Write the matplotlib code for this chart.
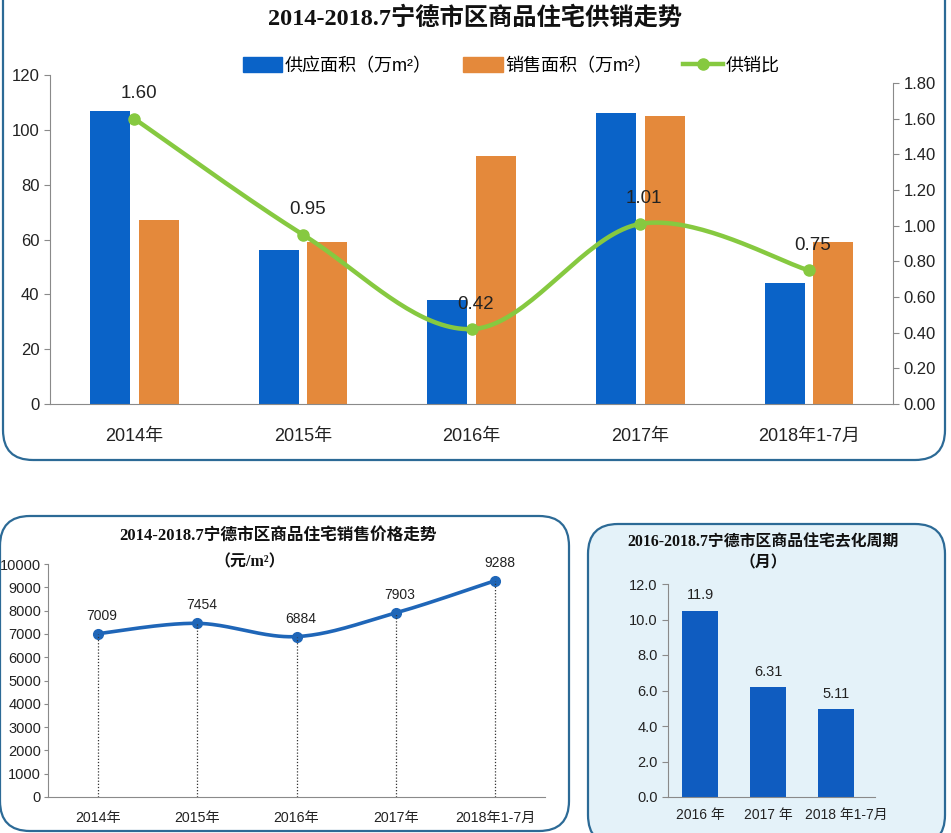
import numpy as np
import matplotlib
matplotlib.use('Agg')
import matplotlib.pyplot as plt
import matplotlib.transforms as mtransforms
from matplotlib.patches import FancyBboxPatch, Patch
from matplotlib.lines import Line2D

plt.rcParams['font.family'] = ['Liberation Sans', 'Noto Sans CJK SC']
TITLE_FONT = ['Liberation Serif', 'Noto Sans CJK SC']

# ---- data ----
years = ['2014年', '2015年', '2016年', '2017年', '2018年1-7月']
supply = [107, 56, 38, 106, 44]          # 供应面积 (万m²)
sales = [67, 59, 90.5, 105, 59]          # 销售面积 (万m²)
ratio = [1.60, 0.95, 0.42, 1.01, 0.75]   # 供销比

price = [7009, 7454, 6884, 7903, 9288]   # 元/m²

cycle_years = ['2016 年', '2017 年', '2018 年1-7月']
cycle_bars = [10.5, 6.2, 4.95]           # bar heights as drawn
cycle_labels = ['11.9', '6.31', '5.11']  # printed data labels

BLUE = '#0a63c8'
ORANGE = '#e4893b'
GREEN = '#86c940'
LINE_BLUE = '#1f66b8'
BAR_BLUE = '#0f5cc0'
BOX_EDGE = '#2c6a96'
AXIS_GREY = '#8a8a8a'
W, H = 951, 833


def smooth(x, y, n=40):
    """Catmull-Rom curve through the points, like Excel's smoothed line."""
    pts = np.column_stack([x, y]).astype(float)
    pad = np.vstack([pts[0], pts, pts[-1]])
    t = np.linspace(0, 1, n)[:, None]
    segs = []
    for i in range(len(pts) - 1):
        p0, p1, p2, p3 = pad[i], pad[i + 1], pad[i + 2], pad[i + 3]
        segs.append(0.5 * (2 * p1 + (-p0 + p2) * t
                           + (2 * p0 - 5 * p1 + 4 * p2 - p3) * t ** 2
                           + (-p0 + 3 * p1 - 3 * p2 + p3) * t ** 3))
    out = np.vstack(segs)
    return out[:, 0], out[:, 1]


def px_axes(x0, y0, x1, y1):
    """axes rect from pixel box (top-left origin)"""
    return fig.add_axes([x0 / W, 1 - y1 / H, (x1 - x0) / W, (y1 - y0) / H])


def box(x0, y0, x1, y1, fc='none'):
    p = FancyBboxPatch((x0 / 100, (H - y1) / 100), (x1 - x0) / 100, (y1 - y0) / 100,
                       boxstyle='round,pad=0,rounding_size=0.3',
                       transform=fig.dpi_scale_trans, fc=fc, ec=BOX_EDGE,
                       lw=1.6, zorder=-5)
    fig.patches.append(p)


def style_left(ax, size, tick_len=4, pad=3.5):
    for s in ['top', 'right']:
        ax.spines[s].set_visible(False)
    ax.spines['left'].set_color(AXIS_GREY)
    ax.spines['bottom'].set_color(AXIS_GREY)
    ax.tick_params(axis='y', colors=AXIS_GREY, labelcolor='#222222',
                   labelsize=size, length=tick_len, width=0.8, pad=pad)
    ax.tick_params(axis='x', length=0, labelcolor='#222222')


fig = plt.figure(figsize=(W / 100, H / 100), dpi=100)

# ---- boxes ----
box(3, -40, 945, 460)
box(0, 516, 569, 831)
box(588, 524, 945, 845, fc='#e4f2f9')

# ---- top chart: supply / sales ----
ax = px_axes(50, 75, 893, 404)
ax.set_facecolor('none')
x = np.arange(len(years))
ax.bar(x - 0.143, supply, width=0.237, color=BLUE)
ax.bar(x + 0.145, sales, width=0.237, color=ORANGE)
ax.set_xlim(-0.5, len(years) - 0.5)
ax.set_ylim(0, 120)
ax.set_yticks(np.arange(0, 121, 20))
style_left(ax, 12)
ax.set_xticks(x)
ax.set_xticklabels(years, fontsize=13)
ax.tick_params(axis='x', pad=17)

ax2 = ax.twinx()
sx, sy = smooth(x, ratio)
ax2.plot(sx, sy, color=GREEN, lw=3.2, solid_capstyle='round')
ax2.plot(x, ratio, 'o', color=GREEN, ms=8)
ax2.set_ylim(0, 1.845)
ax2.set_yticks(np.arange(0, 1.81, 0.2))
ax2.set_yticklabels(['%.2f' % v for v in np.arange(0, 1.81, 0.2)])
for s in ['top', 'left', 'bottom']:
    ax2.spines[s].set_visible(False)
ax2.spines['right'].set_color(AXIS_GREY)
ax2.spines['right'].set_bounds(0, 1.8)
ax2.tick_params(axis='y', colors=AXIS_GREY, labelcolor='#222222',
                labelsize=12, length=4, width=0.8)
for xi, r in zip(x, ratio):
    ax2.annotate('%.2f' % r, (xi, r), xytext=(3, 18), textcoords='offset points',
                 ha='center', va='center', fontsize=13.5, color='#222222')

fig.text(475 / W, 1 - 18 / H, '2014-2018.7宁德市区商品住宅供销走势',
         family=TITLE_FONT, weight='bold', fontsize=17.5,
         ha='center', va='center', color='#111111')

handles = [Patch(color=BLUE), Patch(color=ORANGE),
           Line2D([], [], color=GREEN, lw=3.2, marker='o', ms=8)]
fig.legend(handles, ['供应面积（万m²）', '销售面积（万m²）', '供销比'],
           loc='center', bbox_to_anchor=(511 / W, 1 - 66 / H), ncol=3,
           frameon=False, fontsize=13, handlelength=2.2, handleheight=0.9,
           handletextpad=0.15, columnspacing=1.7)

# ---- bottom left: price ----
axp = px_axes(48, 564, 545, 797)
axp.set_facecolor('none')
xp = np.arange(len(years))
px_, py_ = smooth(xp, price)
axp.plot(px_, py_, color=LINE_BLUE, lw=2.6)
axp.plot(xp, price, 'o', color=LINE_BLUE, ms=7)
axp.vlines(xp, 0, price, colors='#333333', linestyles=(0, (1, 1.5)), lw=0.9)
axp.set_xlim(-0.5, len(years) - 0.5)
axp.set_ylim(0, 10000)
axp.set_yticks(np.arange(0, 10001, 1000))
style_left(axp, 10.5, tick_len=3, pad=2)
axp.set_xticks(xp)
axp.set_xticklabels(years, fontsize=10.2)
axp.tick_params(axis='x', pad=10)
for xi, v in zip(xp, price):
    axp.annotate(str(v), (xi, v), xytext=(3, 13), textcoords='offset points',
                 ha='center', va='center', fontsize=10, color='#222222')

fig.text(278 / W, 1 - 536 / H, '2014-2018.7宁德市区商品住宅销售价格走势',
         family=TITLE_FONT, weight='bold', fontsize=12,
         ha='center', va='center', color='#111111')
fig.text(250 / W, 1 - 562 / H, '（元/m²）',
         family=TITLE_FONT, weight='bold', fontsize=11.5,
         ha='center', va='center', color='#111111')

# ---- bottom right: de-stocking cycle ----
axc = px_axes(668, 584, 875, 797)
axc.set_facecolor('none')
xc = np.arange(len(cycle_years))
axc.bar(xc, cycle_bars, width=0.53, color=BAR_BLUE)
axc.set_xlim(-0.47, 2.57)
axc.set_ylim(0, 12)
axc.set_yticks(np.arange(0, 12.1, 2))
axc.set_yticklabels(['%.1f' % v for v in np.arange(0, 12.1, 2)])
style_left(axc, 10.5)
axc.set_xticks(xc)
axc.set_xticklabels(cycle_years, fontsize=10)
axc.tick_params(axis='x', pad=8)
# last label sits a little right of its bar in the original
last = axc.get_xticklabels()[-1]
last.set_transform(last.get_transform()
                   + mtransforms.ScaledTranslation(0.1, 0, fig.dpi_scale_trans))
for xi, h, lab in zip(xc, cycle_bars, cycle_labels):
    axc.annotate(lab, (xi, h), xytext=(0, 11), textcoords='offset points',
                 ha='center', va='center', fontsize=10.5, color='#222222')

fig.text(763 / W, 1 - 543 / H, '2016-2018.7宁德市区商品住宅去化周期',
         family=TITLE_FONT, weight='bold', fontsize=11.4,
         ha='center', va='center', color='#111111')
fig.text(763 / W, 1 - 563 / H, '（月）',
         family=TITLE_FONT, weight='bold', fontsize=11.4,
         ha='center', va='center', color='#111111')

fig.savefig('out.png', dpi=100)
